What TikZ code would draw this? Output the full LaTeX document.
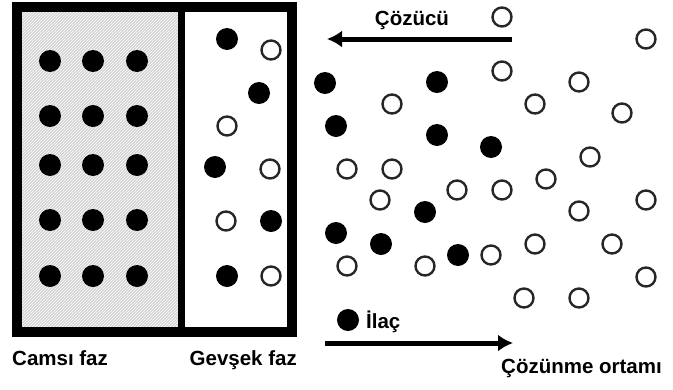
\documentclass[tikz,border=0pt]{standalone}
\usepackage{fontspec}
\setmainfont{Liberation Sans}
\usetikzlibrary{arrows.meta,patterns}
\tikzset{
	drug/.style={circle,fill=black,minimum size=22pt,inner sep=0pt},
	solvent/.style={circle,draw=black!85,line width=2.4pt,fill=white,minimum size=19pt,inner sep=0pt},
	lbl/.style={font=\fontsize{20.5}{24}\selectfont\bfseries,inner sep=0pt},
	flow/.style={line width=5pt,-{Latex[length=15pt,width=17pt]}}
}
\begin{document}
\begin{tikzpicture}[x=1pt,y=-1pt]
	\useasboundingbox (0,0) rectangle (673,389);
	
	% glassy and rubbery phase
	\fill[black!17] (17,7) rectangle (181,332);
	\fill[pattern=north east lines,pattern color=white] (17,7) rectangle (181,332);
	\draw[line width=10pt] (17,7) rectangle (292,332);
	\draw[line width=7pt] (181.5,7) -- (181.5,332);
	
	\foreach \x [count=\i] in {50,93,137}
		\foreach \y [count=\j] in {61,116,165,220,276}
			\node[drug] (g\i\j) at (\x,\y) {};
	
	% drug molecules
	\foreach \x/\y [count=\n] in {227/39,259/93,215/167,271/221,227/276,325/83,437/82,336/126,437/135,491/147,425/212,336/233,381/244,458/255}
		\node[drug] (d\n) at (\x,\y) {};
	
	% solvent molecules
	\foreach \x/\y [count=\n] in {271/50,227/126,270/169,226/221,271/276,502/17,646/39,502/71,579/82,392/104,535/104,622/113,590/157,347/169,392/169,546/179,457/190,502/190,380/200,646/200,579/211,535/244,612/244,347/266,425/266,491/255,646/277,524/298,579/298}
		\node[solvent] (s\n) at (\x,\y) {};
	
	% solvent in, drug out
	\coordinate (solvA) at (512,39);
	\coordinate (solvB) at (327,39);
	\draw[flow] (solvA) -- (solvB);
	\node[lbl,anchor=base] (solvtxt) at (412,25) {Çözücü};
	
	\node[drug] (legdrug) at (348,320) {};
	\node[lbl,anchor=base west] (drugtxt) at (366,328) {İlaç};
	\coordinate (drugA) at (325,343);
	\coordinate (drugB) at (513,343);
	\draw[flow] (drugA) -- (drugB);
	
	\node[lbl,anchor=base west] (glassy) at (12,365) {Camsı faz};
	\node[lbl,anchor=base east] (rubbery) at (297,365) {Gevşek faz};
	\node[lbl,anchor=base east] (medium) at (662,373) {Çözünme ortamı};
\end{tikzpicture}
\end{document}
